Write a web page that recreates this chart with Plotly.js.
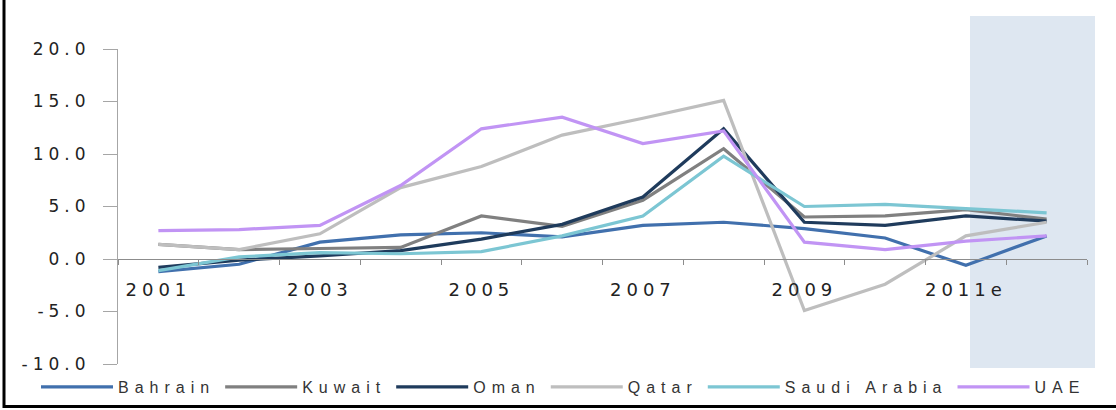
<!DOCTYPE html>
<html>
<head>
<meta charset="utf-8">
<script src="https://cdn.plot.ly/plotly-3.0.1.min.js"></script>
<style>
  html, body { margin: 0; padding: 0; background: #fff; }
  #chart { width: 1116px; height: 410px; }
  .ytick text { letter-spacing: 5px; }
  .xtick text { letter-spacing: 5px; }
  .legendtext { letter-spacing: 6px; }
</style>
</head>
<body>
<div id="chart"></div>
<script>
// ---- data ----
const years = [2001, 2002, 2003, 2004, 2005, 2006, 2007, 2008, 2009, 2010, 2011, 2012];
const tickYears = [2001, 2003, 2005, 2007, 2009, 2011];
const tickLabels = ['2001', '2003', '2005', '2007', '2009', '2011e'];
const yTickVals = [-10, -5, 0, 5, 10, 15, 20];
const yTickLabels = ['-10.0', '-5.0', '0.0', '5.0', '10.0', '15.0', '20.0'];
const seriesNames = ['Bahrain', 'Kuwait', 'Oman', 'Qatar', 'Saudi Arabia', 'UAE'];
const bahrain = [-1.2, -0.5, 1.6, 2.3, 2.5, 2.1, 3.2, 3.5, 2.9, 2.0, -0.6, 2.2];
const kuwait  = [1.4, 0.9, 1.0, 1.1, 4.1, 3.1, 5.6, 10.5, 4.0, 4.1, 4.7, 3.8];
const oman    = [-0.8, -0.1, 0.3, 0.8, 1.9, 3.3, 5.9, 12.4, 3.5, 3.2, 4.1, 3.6];
const qatar   = [1.4, 0.9, 2.4, 6.8, 8.8, 11.8, 13.4, 15.1, -4.9, -2.4, 2.2, 3.5];
const saudi   = [-1.1, 0.2, 0.6, 0.5, 0.7, 2.2, 4.1, 9.8, 5.0, 5.2, 4.8, 4.4];
const uae     = [2.7, 2.8, 3.2, 7.0, 12.4, 13.5, 11.0, 12.2, 1.6, 0.9, 1.7, 2.2];
const colors = ['#4170AD', '#808080', '#1F3B5C', '#BEBEBE', '#7CC6D3', '#C194F4'];
const values = [bahrain, kuwait, oman, qatar, saudi, uae];

// ---- geometry ----
const W = 1116, H = 410;
const M = {l: 118, r: 29, t: 49, b: 46, autoexpand: false};
const PW = W - M.l - M.r, PH = H - M.t - M.b;
const px = x => (x - M.l) / PW;          // pixel -> paper x
const py = y => (H - M.b - y) / PH;      // pixel -> paper y

const traces = seriesNames.map((n, i) => ({
  type: 'scatter', mode: 'lines', name: n,
  x: years, y: values[i],
  line: {color: colors[i], width: 3.2},
  hoverinfo: 'skip'
}));

const boundaries = years.map(y => y - 0.5).concat([years[years.length - 1] + 0.5]);

const layout = {
  width: W, height: H,
  margin: M,
  paper_bgcolor: '#ffffff', plot_bgcolor: 'rgba(0,0,0,0)',
  showlegend: true,
  font: {family: 'DejaVu Sans, Verdana, sans-serif', color: '#333333'},
  xaxis: {
    range: [2000.5, 2012.5],
    anchor: 'free', position: 1 / 3,
    tickvals: tickYears, ticktext: tickLabels,
    ticks: 'outside', ticklen: 0, tickcolor: 'rgba(0,0,0,0)',
    ticklabelstandoff: 14,
    minor: {tickvals: boundaries, ticks: 'outside', ticklen: 5, tickcolor: '#8C8C8C', tickwidth: 1},
    showline: true, linecolor: '#8C8C8C', linewidth: 1,
    showgrid: false, zeroline: false,
    tickfont: {size: 18, color: '#222222'}
  },
  yaxis: {
    range: [-10, 20],
    tickvals: yTickVals, ticktext: yTickLabels,
    ticks: 'outside', ticklen: 14, tickcolor: '#A6A6A6', tickwidth: 1,
    ticklabelstandoff: 9,
    showline: true, linecolor: '#A6A6A6', linewidth: 1,
    showgrid: false, zeroline: false,
    tickfont: {size: 17, color: '#222222'}
  },
  legend: {
    orientation: 'h', x: px(36), xanchor: 'left', y: py(387), yanchor: 'middle',
    itemwidth: 72, font: {family: 'Liberation Sans, Arial, sans-serif', size: 16, color: '#333333'},
    bgcolor: 'rgba(0,0,0,0)', tracegroupgap: 0
  },
  shapes: [
    {type: 'rect', xref: 'paper', yref: 'paper', layer: 'below',
     x0: px(970), x1: px(1095), y0: py(368), y1: py(16),
     fillcolor: '#DEE7F1', line: {width: 0}},
    {type: 'line', xref: 'paper', yref: 'paper',
     x0: px(4), x1: px(4), y0: py(0), y1: py(408), line: {color: '#000', width: 3}},
    {type: 'line', xref: 'paper', yref: 'paper',
     x0: px(3), x1: px(1116), y0: py(406.5), y1: py(406.5), line: {color: '#000', width: 3}}
  ]
};

Plotly.newPlot('chart', traces, layout, {displayModeBar: false, staticPlot: true});
</script>
</body>
</html>
